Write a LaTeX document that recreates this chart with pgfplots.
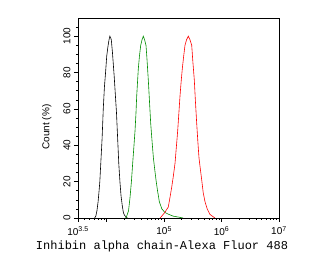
\documentclass[border=0pt]{standalone}
\usepackage{pgfplots}
\pgfplotsset{compat=1.18}
\usepackage{fontspec}
\setmainfont{Liberation Sans}
\newfontfamily\labelfont{Liberation Mono}
\definecolor{fgreen}{RGB}{0,140,0}
\definecolor{fred}{RGB}{255,0,0}
\begin{document}
\begin{tikzpicture}
\path[use as bounding box] (-78pt,-43pt) rectangle (248pt,218pt);
\begin{axis}[
  scale only axis, width=201pt, height=200pt,
  xmin=3.5, xmax=7, ymin=0, ymax=110,
  axis line style={line width=0.8pt},
  tick align=outside, xtick pos=bottom, ytick pos=left,
  major tick length=4pt, minor tick length=2pt,
  every tick/.style={black, line width=0.6pt},
  xtick={3.5,4,5,6,7},
  xticklabels={{10\textsuperscript{3.5}},{},{10\textsuperscript{5}},{10\textsuperscript{6}},{10\textsuperscript{7}}},
  minor xtick={3.602,3.699,3.778,3.845,3.903,3.954,4.301,4.477,4.602,4.699,4.778,4.845,4.903,4.954,5.301,5.477,5.602,5.699,5.778,5.845,5.903,5.954,6.301,6.477,6.602,6.699,6.778,6.845,6.903,6.954},
  ytick={0,20,40,60,80,100},
  minor ytick={5,10,15,25,30,35,45,50,55,65,70,75,85,90,95,105},
  /pgf/number format/assume math mode=true,
  ticklabel style={font=\fontsize{10}{12}\selectfont},
  yticklabel style={rotate=90, anchor=south},
  xticklabel style={yshift=-1pt},
  xlabel={\labelfont Inhibin alpha chain-Alexa Fluor 488},
  xlabel style={font=\fontsize{12}{14}\selectfont, at={(axis description cs:0.418,0)}, anchor=north, yshift=-19pt},
  ylabel={Count (\%)},
  ylabel style={font=\fontsize{10}{12}\selectfont, at={(axis description cs:-0.155,0.455)}, anchor=center},
]
\addplot[black, line width=0.6pt] coordinates {
(3.79,0) (3.81,1) (3.83,4) (3.85,9) (3.87,16) (3.88,20) (3.90,32) (3.92,44) (3.94,60) (3.96,72) (3.98,80) (4.00,89) (4.02,94) (4.04,98) (4.055,100)
(4.07,99) (4.08,98) (4.10,91) (4.13,78) (4.15,68) (4.17,58) (4.19,44) (4.21,30) (4.23,20) (4.25,12) (4.27,7) (4.29,3) (4.31,1.5) (4.34,0.5) (4.36,0)
};
\addplot[fgreen, line width=0.6pt] coordinates {
(4.33,0) (4.348,1) (4.38,4) (4.405,11) (4.43,20) (4.452,30) (4.475,40) (4.493,48) (4.51,58) (4.522,67) (4.55,82) (4.57,89) (4.592,95) (4.615,98) (4.637,100) (4.66,98) (4.684,95) (4.70,88) (4.724,76) (4.745,64) (4.766,52) (4.79,42) (4.813,33) (4.835,27) (4.858,21) (4.885,15) (4.916,9) (4.96,5) (5.015,3) (5.08,2) (5.159,1) (5.25,0.5) (5.328,0)
};
\addplot[fred, line width=0.6pt] coordinates {
(4.93,0) (4.957,1) (5.01,3) (5.072,6) (5.10,11) (5.132,17) (5.16,23) (5.189,30) (5.21,38) (5.236,48) (5.255,57) (5.276,67) (5.296,75) (5.316,82) (5.34,89) (5.363,95) (5.39,98) (5.421,100) (5.45,98) (5.480,95) (5.50,86) (5.525,76) (5.545,64) (5.567,52) (5.587,42) (5.607,33) (5.63,27) (5.654,21) (5.68,14) (5.711,9) (5.75,5) (5.798,2) (5.84,1) (5.885,0)
};
\end{axis}
\end{tikzpicture}
\end{document}
